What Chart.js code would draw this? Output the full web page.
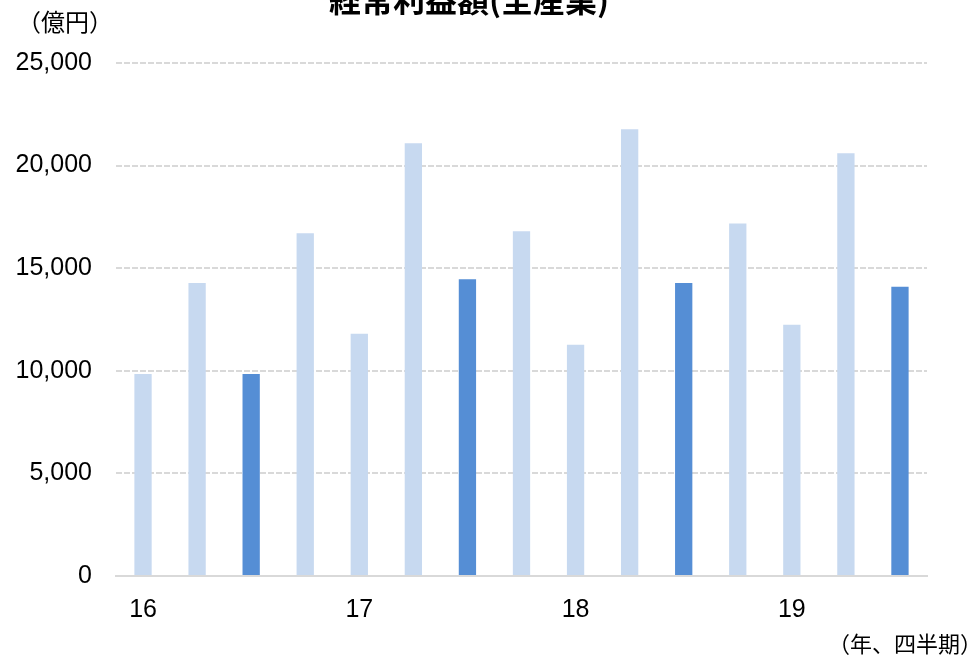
<!DOCTYPE html>
<html>
<head>
<meta charset="utf-8">
<script src="https://cdn.jsdelivr.net/npm/chart.js@4"></script>
<style>
  body { margin: 0; background: #fff; }
  #wrap { width: 975px; height: 657px; position: relative; }
</style>
</head>
<body>
<div id="wrap"><canvas id="profitChart"></canvas></div>
<script>
const categories = ['16', '', '', '', '17', '', '', '', '18', '', '', '', '19', '', ''];
const profitValues = [9840, 14280, 9840, 16700, 11800, 21090, 14460, 16800, 11270, 21770, 14280, 17180, 12250, 20600, 14090];
const highlighted = [false, false, true, false, false, false, true, false, false, false, true, false, false, false, true];
const yTicks = [0, 5000, 10000, 15000, 20000, 25000];

const lightBlue = '#c7d9f0';
const darkBlue = '#558ed5';
const fontFamily = '"Liberation Sans", Arial, "Noto Sans CJK JP", sans-serif';

// title (cut off at the top) and unit labels
const extraText = {
  id: 'extraText',
  afterDraw(chart) {
    const c = chart.ctx;
    c.save();
    c.fillStyle = '#000';
    c.textAlign = 'center';
    c.textBaseline = 'alphabetic';
    c.font = 'bold 32px "Noto Sans CJK JP", sans-serif';
    c.fillText('経常利益額(全産業)', 469, 12);
    c.font = '24px "Noto Sans CJK JP", sans-serif';
    c.textBaseline = 'middle';
    c.textAlign = 'left';
    c.fillText('（億円）', 17, 22);
    c.font = '22px "Noto Sans CJK JP", sans-serif';
    c.textAlign = 'right';
    c.fillText('（年、四半期）', 982, 644);
    c.restore();
  }
};

const ctx = document.getElementById('profitChart').getContext('2d');
const profitChart = new Chart(ctx, {
  type: 'bar',
  data: {
    labels: categories,
    datasets: [{
      data: profitValues,
      backgroundColor: highlighted.map(h => h ? darkBlue : lightBlue),
      borderWidth: 0,
      barPercentage: 0.64,
      categoryPercentage: 0.5
    }]
  },
  options: {
    responsive: true,
    maintainAspectRatio: false,
    animation: false,
    layout: { padding: { top: 63, left: 0, right: 48, bottom: 0 } },
    plugins: {
      legend: { display: false },
      tooltip: { enabled: false }
    },
    scales: {
      x: {
        grid: { display: false, drawTicks: false },
        border: { display: true, color: '#d9d9d9', width: 2 },
        ticks: {
          autoSkip: false,
          maxRotation: 0,
          padding: 19,
          color: '#000',
          font: { family: fontFamily, size: 25 }
        },
        afterFit(scale) { scale.height = 81; }
      },
      y: {
        min: 0,
        max: 25000,
        afterBuildTicks(scale) { scale.ticks = yTicks.map(v => ({ value: v })); },
        grid: {
          drawTicks: false,
          lineWidth: 2,
          color: c => c.tick && c.tick.value === 0 ? 'rgba(0,0,0,0)' : '#d9d9d9'
        },
        border: { display: false, dash: [6, 2] },
        ticks: {
          padding: 24,
          color: '#000',
          font: { family: fontFamily, size: 25 },
          callback: v => v.toLocaleString('en-US')
        },
        afterFit(scale) { scale.width = 116; }
      }
    }
  },
  plugins: [extraText]
});
</script>
</body>
</html>
